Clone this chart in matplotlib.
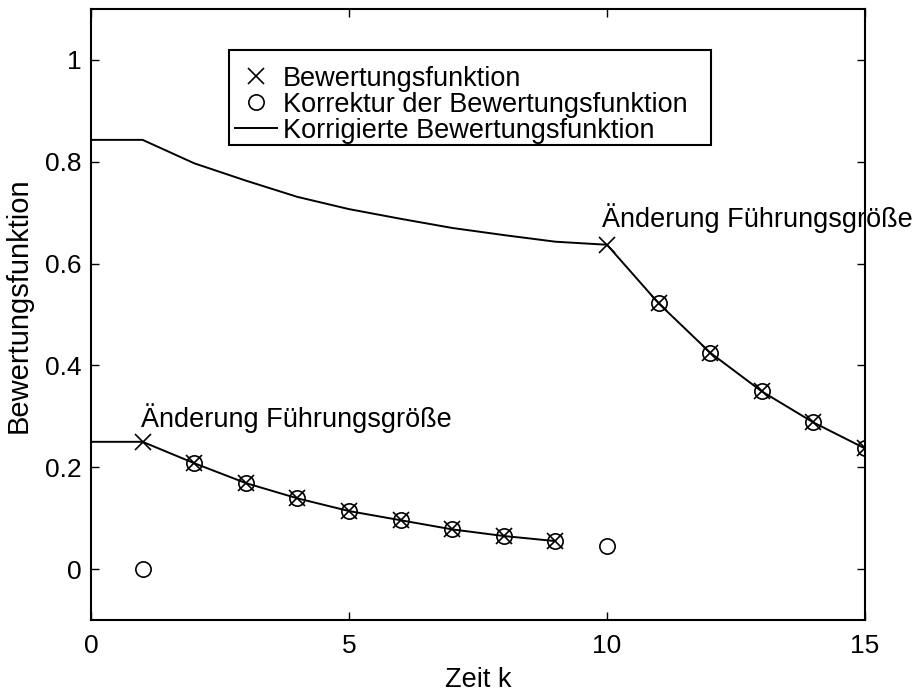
import numpy as np
import matplotlib
matplotlib.use("Agg")
import matplotlib.pyplot as plt
from matplotlib.patches import Rectangle

plt.rcParams['font.family'] = ['Liberation Sans', 'DejaVu Sans']

# Bewertungsfunktion (crosses)
k_x1 = [1, 2, 3, 4, 5, 6, 7, 8, 9]
y_x1 = [0.250, 0.208, 0.169, 0.139, 0.114, 0.096, 0.078, 0.065, 0.055]
k_x2 = [10, 11, 12, 13, 14, 15]
y_x2 = [0.637, 0.522, 0.425, 0.349, 0.288, 0.237]

# Korrektur der Bewertungsfunktion (circles)
k_o = [1, 2, 3, 4, 5, 6, 7, 8, 9, 10, 11, 12, 13, 14, 15]
y_o = [0.0, 0.208, 0.169, 0.139, 0.114, 0.096, 0.078, 0.065, 0.055, 0.045,
       0.522, 0.425, 0.349, 0.288, 0.237]

# Korrigierte Bewertungsfunktion (lines)
k_l1 = [0, 1, 2, 3, 4, 5, 6, 7, 8, 9]
y_l1 = [0.250, 0.250, 0.208, 0.169, 0.139, 0.114, 0.096, 0.078, 0.065, 0.055]
k_l2 = [0, 1, 2, 3, 4, 5, 6, 7, 8, 9, 10, 11, 12, 13, 14, 15]
y_l2 = [0.843, 0.843, 0.797, 0.763, 0.731, 0.707, 0.688, 0.670, 0.656, 0.643,
        0.637, 0.522, 0.425, 0.349, 0.288, 0.237]

FS = 19.5

fig = plt.figure(figsize=(9.22, 6.93), dpi=100)
ax = fig.add_axes([0.0987, 0.1053, 0.8395, 0.8817])

h1, = ax.plot(k_x1, y_x1, 'x', color='black', ms=11, mew=1.2, ls='none')
ax.plot(k_x2, y_x2, 'x', color='black', ms=11, mew=1.2, ls='none')
h2, = ax.plot(k_o, y_o, 'o', mfc='none', mec='black', ms=11, mew=1.2, ls='none')
h3, = ax.plot(k_l1, y_l1, '-', color='black', lw=1.4)
ax.plot(k_l2, y_l2, '-', color='black', lw=1.4)

ax.text(0.97, 0.28, 'Änderung Führungsgröße', fontsize=FS, va='baseline')
ax.text(9.9, 0.672, 'Änderung Führungsgröße', fontsize=FS, va='baseline', clip_on=False)

ax.set_xlim(0, 15)
ax.set_ylim(-0.1, 1.1)
ax.set_xticks([0, 5, 10, 15])
ax.set_yticks([0, 0.2, 0.4, 0.6, 0.8, 1])
ax.set_yticklabels(['0', '0.2', '0.4', '0.6', '0.8', '1'])
ax.tick_params(direction='in', length=6, width=1, top=True, right=True,
               labelsize=19)
ax.tick_params(axis='x', pad=10)
ax.tick_params(axis='y', pad=7)
for s in ax.spines.values():
    s.set_linewidth(1.5)

ax.set_xlabel('Zeit k', fontsize=FS)
ax.set_ylabel('Bewertungsfunktion', fontsize=21)
ax.xaxis.set_label_coords(0.5, -0.077)
ax.yaxis.set_label_coords(-0.076, 0.515)

# legend box drawn separately so the padding matches
ax.add_patch(Rectangle((0.1783, 0.7774), 0.8010 - 0.1783, 0.9329 - 0.7774,
                       transform=ax.transAxes, fill=True, facecolor='white',
                       edgecolor='black', lw=1.5, zorder=4))
leg = ax.legend([h1, h2, h3],
                ['Bewertungsfunktion', 'Korrektur der Bewertungsfunktion',
                 'Korrigierte Bewertungsfunktion'],
                loc='upper left', bbox_to_anchor=(0.186, 0.907), borderaxespad=0,
                fontsize=FS, frameon=False,
                handlelength=1.55, handletextpad=0.22, labelspacing=0.0,
                borderpad=0)
leg.set_zorder(5)

fig.savefig('out.png', dpi=100)
